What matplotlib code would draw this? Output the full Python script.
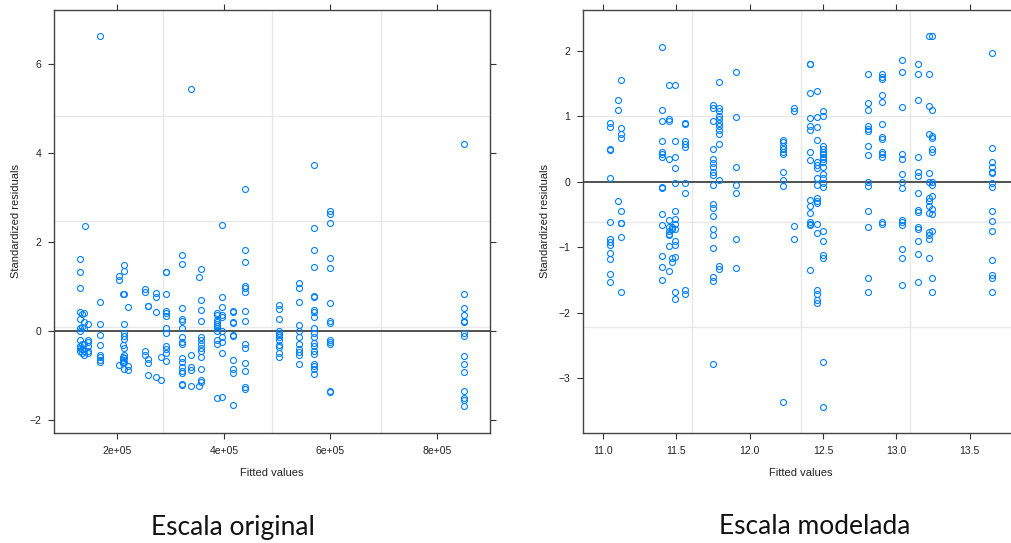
import numpy as np
import matplotlib
matplotlib.use("Agg")
import matplotlib.pyplot as plt

plt.rcParams['font.family'] = ['Liberation Sans', 'DejaVu Sans']

# --- Escala original: fitted values (x1e5) and standardized residuals per column
orig_cols = [1.31, 1.34, 1.38, 1.40, 1.45, 1.68, 1.68, 2.03, 2.10, 2.13, 2.21, 2.52, 2.58,
             2.72, 2.83, 2.91, 3.21, 3.38, 3.38, 3.54, 3.58, 3.87, 3.96, 4.18, 4.40,
             5.04, 5.41, 5.70, 6.00, 8.50]
orig_groups = [
    [1.62, 1.31, 0.95, 0.42, 0.27, 0.05, 0.0, -0.2, -0.35, -0.4, -0.45],
    [0.38, 0.08, -0.3, -0.42, -0.5],
    [0.4, 0.2, 0.05, -0.3, -0.45, -0.55],
    [2.35],
    [0.15, -0.2, -0.25, -0.35, -0.45, -0.5],
    [0.65, 0.15, -0.1, -0.32, -0.55, -0.6, -0.65, -0.7],
    [6.63],
    [1.22, 1.15, -0.77],
    [0.83, -0.32, -0.6, -0.65, -0.7, -0.72],
    [1.48, 1.35, 0.82, 0.14, -0.05, -0.12, -0.18, -0.4, -0.55, -0.62, -0.7, -0.85],
    [0.53, -0.8, -0.88],
    [0.93, 0.88, -0.45, -0.55],
    [0.56, 0.55, -0.63, -0.72, -1.0],
    [0.85, 0.75, 0.42, -1.05],
    [-0.6, -1.1],
    [1.32, 1.31, 0.82, 0.45, 0.4, 0.33, 0.05, -0.05, -0.35, -0.42, -0.5, -0.68],
    [1.7, 1.5, 0.52, 0.27, 0.22, 0.05, -0.15, -0.25, -0.3, -0.62, -0.7, -0.82, -0.9,
     -0.95, -1.2, -1.22],
    [-0.55, -0.82, -0.88, -1.25],
    [5.44],
    [1.2, -1.25],
    [1.38, 0.68, 0.47, 0.22, -0.15, -0.2, -0.3, -0.4, -0.45, -0.6, -0.85, -1.1, -1.15],
    [0.4, 0.35, 0.25, 0.2, 0.15, 0.1, 0.05, 0.0, -0.2, -0.3, -1.52],
    [2.37, 0.75, 0.53, 0.35, 0.3, 0.0, -0.15, -0.25, -0.5, -1.5],
    [0.45, 0.42, 0.2, 0.18, -0.1, -0.12, -0.65, -0.85, -0.95, -1.68],
    [3.19, 1.82, 1.55, 1.0, 0.95, 0.88, 0.45, 0.22, -0.3, -0.38, -0.72, -0.9, -1.27, -1.32],
    [0.58, 0.48, 0.27, 0.0, -0.05, -0.1, -0.15, -0.22, -0.33, -0.37, -0.5, -0.6],
    [1.07, 0.95, 0.65, 0.12, 0.0, -0.15, -0.3, -0.42, -0.48, -0.55, -0.75],
    [3.72, 2.31, 1.82, 1.43, 0.78, 0.75, 0.47, 0.42, 0.3, 0.05, -0.05, -0.15, -0.28,
     -0.35, -0.45, -0.52, -0.75, -0.8, -0.85, -0.98],
    [2.69, 2.62, 2.42, 1.63, 1.42, 0.62, 0.22, 0.18, -0.2, -0.25, -0.3, -1.35, -1.38],
    [4.2, 0.82, 0.5, 0.35, 0.22, 0.2, -0.05, -0.12, -0.57, -0.75, -0.92, -1.35, -1.52,
     -1.55, -1.7],
]

# --- Escala modelada
mod_cols = [11.045, 11.10, 11.12, 11.40, 11.45, 11.47, 11.49, 11.56, 11.75, 11.79, 11.91,
            12.23, 12.30, 12.41, 12.46, 12.50, 12.81, 12.90, 13.04, 13.15, 13.22, 13.24, 13.65]
mod_groups = [
    [0.9, 0.83, 0.5, 0.48, 0.05, -0.62, -0.87, -0.92, -0.97, -1.09, -1.19, -1.41, -1.53],
    [1.25, 1.1, -0.3],
    [1.55, 0.82, 0.72, 0.67, -0.45, -0.63, -0.64, -0.84, -1.69],
    [2.05, 1.1, 0.92, 0.62, 0.45, 0.42, 0.38, -0.08, -0.1, -0.5, -0.67, -1.13, -1.31, -1.51],
    [1.47, 0.95, 0.92, 0.35, -0.58, -0.7, -0.75, -0.8, -0.82, -0.985, -1.36],
    [-0.72, -0.7, -1.17, -1.23],
    [1.48, 0.62, 0.37, 0.2, -0.02, -0.45, -0.57, -0.65, -0.72, -0.91, -0.97, -1.15,
     -1.68, -1.79],
    [0.9, 0.88, 0.62, 0.58, 0.53, -0.02, -0.17, -1.65, -1.72],
    [1.17, 1.12, 0.92, 0.5, 0.35, 0.28, 0.22, 0.15, 0.1, -0.05, -0.35, -0.4, -0.52, -0.72,
     -0.82, -1.02, -1.46, -1.52, -2.78],
    [1.52, 1.12, 1.08, 1.0, 0.95, 0.9, 0.85, 0.78, 0.72, 0.57, 0.03, -1.29, -1.33],
    [1.67, 0.99, 0.22, -0.05, -0.17, -0.87, -1.32],
    [0.63, 0.6, 0.55, 0.5, 0.45, 0.42, 0.15, 0.02, -0.07, -3.37],
    [1.12, 1.08, -0.68, -0.88],
    [1.8, 1.79, 1.35, 0.97, 0.85, 0.78, 0.45, 0.33, -0.28, -0.38, -0.48, -0.62, -0.65,
     -0.67, -1.35],
    [1.38, 0.98, 0.83, 0.63, 0.3, 0.25, 0.2, 0.05, -0.05, -0.25, -0.3, -0.33, -0.65,
     -0.79, -1.66, -1.72, -1.81, -1.86],
    [1.07, 1.0, 0.55, 0.5, 0.45, 0.42, 0.38, 0.35, 0.3, 0.22, 0.12, 0.05, -0.02, -0.08,
     -0.75, -0.91, -1.12, -1.17, -2.76, -3.44],
    [1.65, 1.2, 1.1, 0.85, 0.8, 0.77, 0.55, 0.4, 0.0, -0.07, -0.45, -0.7, -1.48, -1.69],
    [1.65, 1.6, 1.57, 1.32, 1.22, 0.88, 0.68, 0.65, 0.45, 0.42, 0.38, -0.62, -0.65],
    [1.85, 1.67, 1.14, 0.42, 0.35, 0.12, 0.0, -0.1, -0.58, -0.62, -0.67, -1.03, -1.16, -1.58],
    [1.8, 1.65, 1.25, 0.38, 0.15, 0.08, -0.17, -0.43, -0.47, -0.7, -0.72, -0.91, -1.11, -1.53],
    [2.23, 1.65, 1.15, 0.73, 0.13, 0.0, -0.25, -0.3, -0.38, -0.48, -0.77, -0.82, -0.88,
     -1.16],
    [2.23, 1.1, 0.7, 0.67, 0.5, 0.45, 0.0, -0.05, -0.22, -0.42, -0.5, -0.75, -1.47, -1.68],
    [1.97, 0.52, 0.3, 0.22, 0.15, 0.13, -0.02, -0.08, -0.45, -0.6, -0.75, -1.2, -1.43,
     -1.47, -1.69],
]

orig_xticks = [2e5, 4e5, 6e5, 8e5]
orig_xlabels = ['2e+05', '4e+05', '6e+05', '8e+05']
orig_yticks = [-2, 0, 2, 4, 6]
mod_xticks = [11.0, 11.5, 12.0, 12.5, 13.0, 13.5]
mod_xlabels = ['11.0', '11.5', '12.0', '12.5', '13.0', '13.5']
mod_yticks = [-3, -2, -1, 0, 1, 2]


def expand(cols, groups, scale=1.0):
    xs, ys = [], []
    for c, g in zip(cols, groups):
        xs += [c * scale] * len(g)
        ys += g
    return np.array(xs), np.array(ys)


W, H = 1011, 543
fig = plt.figure(figsize=(W / 100, H / 100), dpi=100)


def panel(rect, x, y, xlim, ylim, xticks, xlabels, yticks, caption, cap_x):
    ax = fig.add_axes([rect[0] / W, 1 - rect[3] / H, (rect[2] - rect[0]) / W,
                       (rect[3] - rect[1]) / H])
    ax.set_xlim(*xlim)
    ax.set_ylim(*ylim)
    # lattice-style grid: 3 equally spaced lines each way
    for f in (0.25, 0.5, 0.75):
        ax.axvline(xlim[0] + f * (xlim[1] - xlim[0]), color='#e8e8e8', lw=1, zorder=0)
        ax.axhline(ylim[0] + f * (ylim[1] - ylim[0]), color='#e8e8e8', lw=1, zorder=0)
    ax.axhline(0, color='#222222', lw=1.1, zorder=1)
    ax.plot(x, y, 'o', mfc='none', mec='#0080ff', ms=4.3, mew=0.8, zorder=2)
    ax.set_xticks(xticks)
    ax.set_xticklabels(xlabels)
    ax.set_yticks(yticks)
    ax.tick_params(direction='out', length=4, width=0.8, color='#333333',
                   labelsize=7.5, labelcolor='#222222', top=True, right=True, pad=5)
    for s in ax.spines.values():
        s.set_color('#444444')
        s.set_linewidth(1.0)
    ax.set_xlabel('Fitted values', fontsize=8, labelpad=9, color='#222222')
    ax.set_ylabel('Standardized residuals', fontsize=8, labelpad=6, color='#222222')
    fig.text(cap_x / W, 1 - 527 / H, caption, fontsize=19, family=['Lato', 'DejaVu Sans'],
             ha='center', va='center', color='#111111')
    return ax


ox, oy = expand(orig_cols, orig_groups, 1e5)
panel((54, 10, 490, 433), ox, oy, (81400, 899400), (-2.30, 7.21),
      orig_xticks, orig_xlabels, orig_yticks, 'Escala original', 233)

mx, my = expand(mod_cols, mod_groups)
panel((583, 10, 1019, 433), mx, my, (10.864, 13.836), (-3.84, 2.62),
      mod_xticks, mod_xlabels, mod_yticks, 'Escala modelada', 815)

fig.savefig('out.png', dpi=100)
